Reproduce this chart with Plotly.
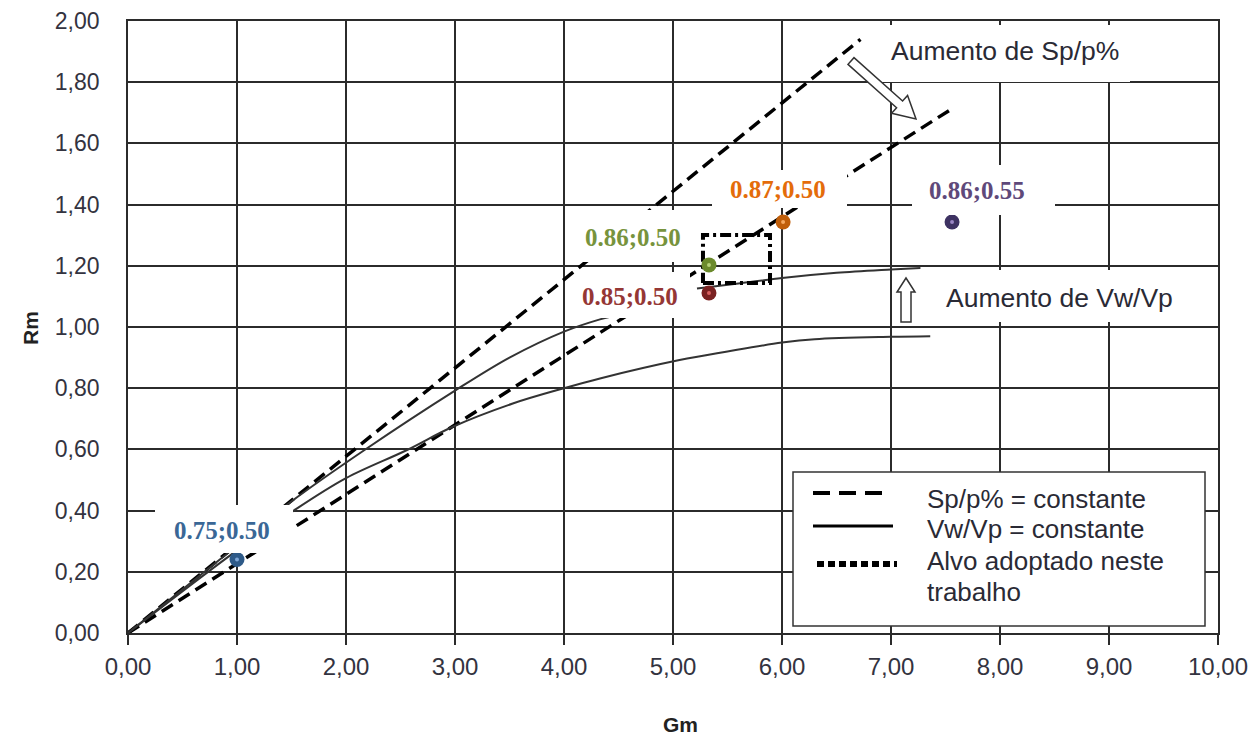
import math
import plotly.graph_objects as go

# ---------------- data ----------------
# Sp/p% = constante (straight lines through origin)
sp_x_upper = [0.0, 6.72]
sp_y_upper = [0.0, 1.94]
sp_x_lower = [0.0, 7.54]
sp_y_lower = [0.0, 1.709]

# Vw/Vp = constante curves
vw_a_x = [0.0, 1.0, 1.5, 2.17, 3.0, 3.5, 4.0, 4.33, 4.5]
vw_a_y = [0.0, 0.285, 0.43, 0.598, 0.792, 0.90, 0.985, 1.025, 1.04]
vw_b_x = [0.0, 1.0, 1.5, 2.0, 2.56, 2.98, 3.53, 4.0, 4.33, 5.06, 5.5, 6.0, 6.3, 7.0, 7.36]
vw_b_y = [0.0, 0.27, 0.395, 0.506, 0.598, 0.674, 0.75, 0.80, 0.832, 0.892, 0.92, 0.949, 0.96, 0.968, 0.97]
vw_c_x = [5.22, 5.6, 6.0, 6.5, 7.0, 7.27]
vw_c_y = [1.126, 1.142, 1.16, 1.177, 1.188, 1.193]

# target rectangle (Alvo adoptado neste trabalho)
alvo_x = [5.275, 5.89, 5.89, 5.275, 5.275]
alvo_y = [1.144, 1.144, 1.301, 1.301, 1.144]

# experimental points
pt_labels = ["0.75;0.50", "0.86;0.50", "0.85;0.50", "0.87;0.50", "0.86;0.55"]
pt_x = [1.0, 5.33, 5.33, 6.01, 7.56]
pt_y = [0.24, 1.203, 1.111, 1.343, 1.343]
pt_outer = ["#2E5A88", "#6B8A2C", "#7A2222", "#C05E0A", "#3E3262"]
pt_inner = ["#7FA6D6", "#B5D078", "#D86060", "#F5A860", "#9A86C4"]
pt_text = ["#3A6796", "#77933C", "#953735", "#E46C0A", "#5F497A"]

x_ticks = [0, 1, 2, 3, 4, 5, 6, 7, 8, 9, 10]
x_ticklabels = ["0,00", "1,00", "2,00", "3,00", "4,00", "5,00", "6,00", "7,00", "8,00", "9,00", "10,00"]
y_ticks = [0, 0.2, 0.4, 0.6, 0.8, 1.0, 1.2, 1.4, 1.6, 1.8, 2.0]
y_ticklabels = ["0,00", "0,20", "0,40", "0,60", "0,80", "1,00", "1,20", "1,40", "1,60", "1,80", "2,00"]

# ---------------- layout geometry ----------------
W, H = 1250, 737
ML, MR, MT, MB = 128, 32, 21, 104
XR = (0, 10)
YR = (0, 2)
pw = W - ML - MR
ph = H - MT - MB


def fx(px):
    return XR[0] + (px - ML) / pw * (XR[1] - XR[0])


def fy(py):
    return YR[0] + (H - MB - py) / ph * (YR[1] - YR[0])


def paper_x(px):
    return (px - ML) / pw


def paper_y(py):
    return (H - MB - py) / ph


LINE = "#2b2b2b"
fig = go.Figure()

dash_style = "13px,7px"
fig.add_trace(go.Scatter(x=sp_x_upper, y=sp_y_upper, mode="lines",
                         line=dict(color="black", width=3.5, dash=dash_style), hoverinfo="skip"))
fig.add_trace(go.Scatter(x=sp_x_lower, y=sp_y_lower, mode="lines",
                         line=dict(color="black", width=3.5, dash=dash_style), hoverinfo="skip"))
for cx, cy in [(vw_a_x, vw_a_y), (vw_b_x, vw_b_y), (vw_c_x, vw_c_y)]:
    fig.add_trace(go.Scatter(x=cx, y=cy, mode="lines",
                             line=dict(color="#333333", width=2, shape="spline", smoothing=1.0),
                             hoverinfo="skip"))
fig.add_trace(go.Scatter(x=alvo_x, y=alvo_y, mode="lines",
                         line=dict(color="black", width=4, dash="11px,4px,3px,4px"), hoverinfo="skip"))
fig.add_trace(go.Scatter(x=pt_x, y=pt_y, mode="markers",
                         marker=dict(size=15, color=pt_outer, line=dict(width=0)), hoverinfo="skip"))
fig.add_trace(go.Scatter(x=pt_x, y=pt_y, mode="markers",
                         marker=dict(size=4, color=pt_inner, line=dict(width=0)), hoverinfo="skip"))

shapes = []
annotations = []


def white_box(px0, px1, py0, py1):
    shapes.append(dict(type="rect", xref="x", yref="y", x0=fx(px0), x1=fx(px1),
                       y0=fy(py1), y1=fy(py0), fillcolor="white", line=dict(width=0),
                       layer="above"))


# label boxes (px extents) and label text centres
label_boxes = [(155, 293, 505, 553), (578, 700, 210, 262), (575, 690, 272, 318),
               (712, 847, 170, 208), (912, 1055, 165, 215)]
label_pos = [(222, 530), (633, 237), (630, 296), (778, 189), (977, 190)]
for (bx0, bx1, by0, by1), (tx, ty), lab, col in zip(label_boxes, label_pos, pt_labels, pt_text):
    white_box(bx0, bx1, by0, by1)
    annotations.append(dict(x=fx(tx), y=fy(ty), xref="x", yref="y", text="<b>%s</b>" % lab,
                            showarrow=False, xanchor="center", yanchor="middle",
                            font=dict(family="Liberation Serif, Times New Roman, serif",
                                      size=25, color=col)))

TXT = "#2a2a35"
SANS = "Liberation Sans, Arial, sans-serif"
# "Aumento" boxes
white_box(880, 1130, 25, 82)
annotations.append(dict(x=fx(889), y=fy(51), xref="x", yref="y", text="Aumento de Sp/p%",
                        showarrow=False, xanchor="left", yanchor="middle",
                        font=dict(family=SANS, size=26.5, color=TXT)))
white_box(928, 1205, 270, 322)
annotations.append(dict(x=fx(944), y=fy(298), xref="x", yref="y", text="Aumento de Vw/Vp",
                        showarrow=False, xanchor="left", yanchor="middle",
                        font=dict(family=SANS, size=26.5, color=TXT)))


def hollow_arrow(tail, tip, sw, hw, hl):
    tx, ty = tail
    hx, hy = tip
    dx, dy = hx - tx, hy - ty
    L = math.hypot(dx, dy)
    ux, uy = dx / L, dy / L
    nx, ny = -uy, ux
    nkx, nky = hx - ux * hl, hy - uy * hl
    pts = [
        (tx + nx * sw / 2, ty + ny * sw / 2),
        (nkx + nx * sw / 2, nky + ny * sw / 2),
        (nkx + nx * hw / 2, nky + ny * hw / 2),
        (hx, hy),
        (nkx - nx * hw / 2, nky - ny * hw / 2),
        (nkx - nx * sw / 2, nky - ny * sw / 2),
        (tx - nx * sw / 2, ty - ny * sw / 2),
    ]
    path = "M " + " L ".join("%.5f,%.5f" % (fx(p[0]), fy(p[1])) for p in pts) + " Z"
    shapes.append(dict(type="path", xref="x", yref="y", path=path, fillcolor="white",
                       line=dict(color="#333333", width=1.5), layer="above"))


hollow_arrow((851, 61), (916, 119), 9, 24, 22)
hollow_arrow((906, 322), (906, 278), 10, 18, 14)

# legend box
shapes.append(dict(type="rect", xref="x", yref="y", x0=fx(793), x1=fx(1205), y0=fy(626), y1=fy(472),
                   fillcolor="white", line=dict(color="#333333", width=1.5), layer="above"))
shapes.append(dict(type="line", xref="x", yref="y", x0=fx(813), x1=fx(884), y0=fy(493), y1=fy(493),
                   line=dict(color="black", width=4, dash="17px,9px"), layer="above"))
shapes.append(dict(type="line", xref="x", yref="y", x0=fx(813), x1=fx(893), y0=fy(526), y1=fy(526),
                   line=dict(color="black", width=3), layer="above"))
shapes.append(dict(type="line", xref="x", yref="y", x0=fx(817), x1=fx(897), y0=fy(564), y1=fy(564),
                   line=dict(color="black", width=6, dash="7px,4px"), layer="above"))
legend_lines = [("Sp/p% = constante", 499), ("Vw/Vp = constante", 529),
                ("Alvo adoptado neste", 561), ("trabalho", 592)]
for txt, py in legend_lines:
    annotations.append(dict(x=fx(925), y=fy(py), xref="x", yref="y", text=txt,
                            showarrow=False, xanchor="left", yanchor="middle",
                            font=dict(family=SANS, size=26, color=TXT)))

# axis titles
annotations.append(dict(x=paper_x(30), y=paper_y(328), xref="paper", yref="paper", text="<b>Rm</b>",
                        showarrow=False, textangle=-90, xanchor="center", yanchor="middle",
                        font=dict(family=SANS, size=21, color="#222222")))
annotations.append(dict(x=paper_x(680), y=paper_y(724), xref="paper", yref="paper", text="<b>Gm</b>",
                        showarrow=False, xanchor="center", yanchor="middle",
                        font=dict(family=SANS, size=21, color="#222222")))

fig.update_layout(
    width=W, height=H,
    margin=dict(l=ML, r=MR, t=MT, b=MB, autoexpand=False),
    paper_bgcolor="white", plot_bgcolor="white",
    showlegend=False,
    shapes=shapes, annotations=annotations,
    xaxis=dict(range=list(XR), tickmode="array", tickvals=x_ticks, ticktext=x_ticklabels,
               automargin=False,
               showgrid=True, gridcolor=LINE, gridwidth=1.6,
               showline=True, linecolor=LINE, linewidth=1.6, mirror=True,
               ticks="outside", ticklen=10, tickcolor=LINE, tickwidth=1.6,
               ticklabelstandoff=1, zeroline=False,
               tickfont=dict(family="Liberation Sans Narrow, Arial Narrow, Liberation Sans, sans-serif",
                             size=24, color="#333340")),
    yaxis=dict(range=list(YR), tickmode="array", tickvals=y_ticks, ticktext=y_ticklabels,
               automargin=False,
               showgrid=True, gridcolor=LINE, gridwidth=1.6,
               showline=True, linecolor=LINE, linewidth=1.6, mirror=True,
               ticks="", ticklabelstandoff=22, zeroline=False,
               tickfont=dict(family=SANS, size=23, color="#333340")),
)

fig.write_html("out.html")
